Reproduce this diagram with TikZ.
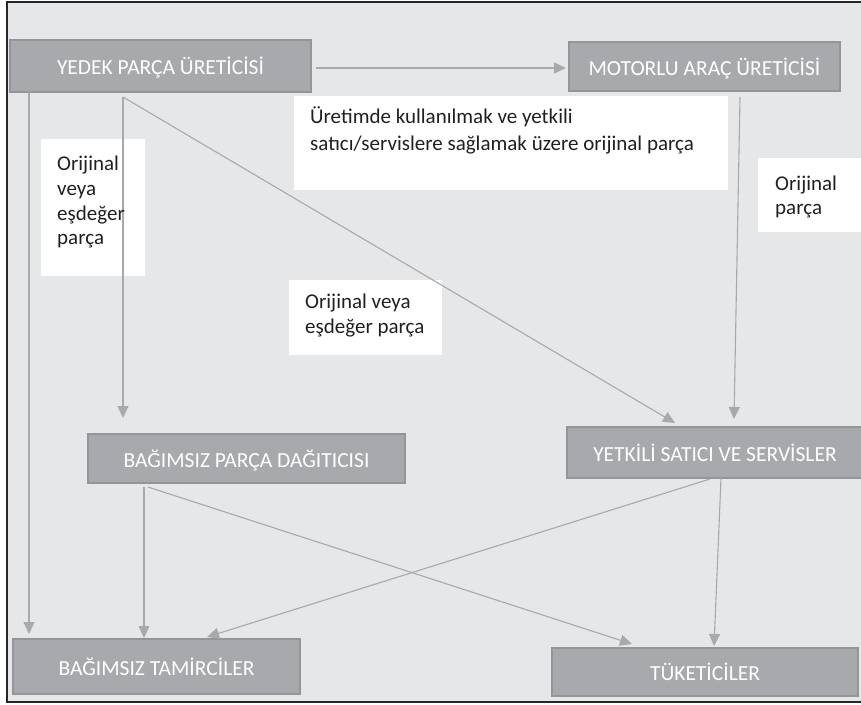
\documentclass[tikz,border=0pt]{standalone}
\usepackage{fontspec}
\setmainfont{Carlito}
\usetikzlibrary{arrows.meta}
\definecolor{bgc}{HTML}{E6E7E8}
\definecolor{boxc}{HTML}{A7A9AC}
\definecolor{boxb}{HTML}{939598}
\definecolor{arrc}{HTML}{A7A9AC}
\definecolor{txtc}{HTML}{231F20}
\tikzset{
  gbox/.style={draw=boxb, line width=1.5pt, fill=boxc, text=white, font=\fontsize{21.5}{24}\selectfont, inner sep=0pt, text depth=0pt, yshift=-1pt},
  wlab/.style={anchor=base west, text=txtc, font=\fontsize{21}{25}\selectfont, inner sep=0pt},
  conn/.style={draw=arrc, line width=1.1pt, -{Triangle[length=12pt,width=11pt]}}
}
\begin{document}
\begin{tikzpicture}[x=1pt,y=-1pt]
\useasboundingbox (0,0) rectangle (861,704);
% background and frame
\fill[bgc] (7,2) rectangle (861,702);
\draw[black!85, line width=1.3pt] (861,2) -- (7,2) -- (7,702) -- (861,702);
% white label boxes
\fill[white] (294,96) rectangle (728,190);
\fill[white] (758,158) rectangle (861,232);
\fill[white] (41,139) rectangle (145,276);
\fill[white] (289,280) rectangle (442,355);
% main boxes
\node[gbox, minimum width=301pt, minimum height=52pt] (yedek) at (160.5,65) {YEDEK PARÇA ÜRETİCİSİ};
\node[gbox, minimum width=271pt, minimum height=49pt] (motor) at (704.5,65.5) {MOTORLU ARAÇ ÜRETİCİSİ};
\node[gbox, minimum width=317pt, minimum height=49pt] (dagit) at (246.5,457.5) {BAĞIMSIZ PARÇA DAĞITICISI};
\node[gbox, minimum width=296pt, minimum height=51pt] (yetkili) at (715,451.5) {YETKİLİ SATICI VE SERVİSLER};
\node[gbox, minimum width=287pt, minimum height=55pt] (tamir) at (156.5,665.5) {BAĞIMSIZ TAMİRCİLER};
\node[gbox, minimum width=306pt, minimum height=48pt] (tuket) at (705,671) {TÜKETİCİLER};
% connector end coordinates
\coordinate (y1) at (316,68);
\coordinate (m1) at (566,68);
\coordinate (y2) at (29,92);
\coordinate (t1) at (29,634);
\coordinate (y3) at (123,97);
\coordinate (d1) at (123,418);
\coordinate (s1) at (675,423);
\coordinate (m2) at (740,97);
\coordinate (s2) at (734,419);
\coordinate (d2) at (144,487);
\coordinate (t2) at (144,638);
\coordinate (d3) at (148,487);
\coordinate (k1) at (632,644);
\coordinate (s3) at (710,479);
\coordinate (t3) at (207,637);
\coordinate (s4) at (721,478);
\coordinate (k2) at (714,646);
% connectors
\draw[conn] (y1) -- (m1);
\draw[conn] (y2) -- (t1);
\draw[conn] (y3) -- (d1);
\draw[conn] (y3) -- (s1);
\draw[conn] (m2) -- (s2);
\draw[conn] (d2) -- (t2);
\draw[conn] (d3) -- (k1);
\draw[conn] (s3) -- (t3);
\draw[conn] (s4) -- (k2);
% labels
\node[wlab] (lab1a) at (310,123) {Üretimde kullanılmak ve yetkili};
\node[wlab] (lab1b) at (310,150) {satıcı/servislere sağlamak üzere orijinal parça};
\node[wlab] (lab2a) at (775,190) {Orijinal};
\node[wlab] (lab2b) at (775,214) {parça};
\node[wlab] (lab3a) at (57,170) {Orijinal};
\node[wlab] (lab3b) at (57,195) {veya};
\node[wlab] (lab3c) at (57,220) {eşdeğer};
\node[wlab] (lab3d) at (57,244) {parça};
\node[wlab] (lab4a) at (305,308) {Orijinal veya};
\node[wlab] (lab4b) at (305,333) {eşdeğer parça};
\end{tikzpicture}
\end{document}
